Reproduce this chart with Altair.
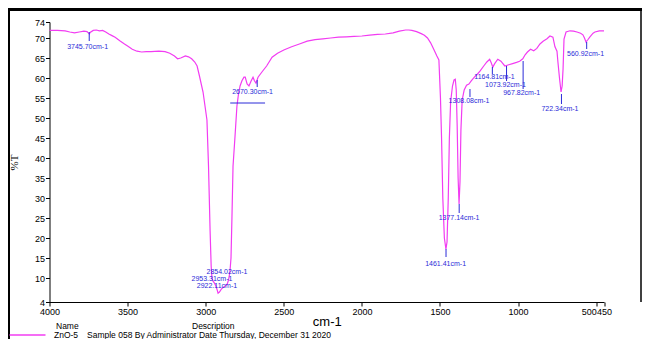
import altair as alt
import pandas as pd

# ---- spectrum (wavenumber cm-1, %T) ----
wn = [4000, 3950, 3900, 3870, 3840, 3810, 3780, 3760, 3750, 3745, 3740, 3720, 3700, 3680, 3660,
      3640, 3620, 3600, 3580, 3550, 3520, 3500, 3470, 3440, 3410, 3380, 3350, 3300, 3260, 3230,
      3200, 3180, 3160, 3130, 3110, 3090, 3070, 3055, 3040, 3017, 2992, 2982, 2972, 2965, 2960,
      2953, 2945, 2935, 2928, 2921, 2912, 2900, 2890, 2875, 2862, 2854, 2845, 2838, 2832, 2825,
      2813, 2800, 2790, 2780, 2768, 2755, 2747, 2735, 2723, 2710, 2697, 2688, 2678, 2665, 2640,
      2610, 2575, 2540, 2500, 2450, 2400, 2350, 2300, 2250, 2200, 2150, 2100, 2050, 2000, 1950,
      1900, 1850, 1800, 1760, 1720, 1700, 1680, 1650, 1620, 1600, 1580, 1560, 1540, 1520, 1507,
      1497, 1490, 1482, 1472, 1462, 1455, 1447, 1440, 1432, 1420, 1410, 1402, 1396, 1390, 1384,
      1378, 1372, 1366, 1358, 1345, 1330, 1315, 1300, 1280, 1260, 1244, 1220, 1200, 1182, 1172,
      1162, 1150, 1130, 1110, 1085, 1060, 1035, 1010, 990, 970, 955, 940, 920, 900, 880,
      860, 840, 815, 796, 777, 764, 751, 745, 735, 725, 718, 712, 706, 693, 668,
      645, 623, 600, 585, 575, 565, 555, 540, 520, 508, 480, 457, 450]
tr = [71.9, 71.9, 71.8, 71.5, 71.3, 71.5, 71.7, 71.6, 71.2, 71.0, 71.4, 71.9, 72.0, 71.8, 71.9,
      71.5, 71.0, 70.6, 70.2, 69.3, 68.5, 68.0, 67.2, 66.7, 66.5, 66.6, 66.6, 66.7, 66.6, 66.2,
      65.5, 64.8, 65.0, 65.5, 65.3, 64.8, 64.0, 63.0, 60.5, 56.5, 49.5, 38.0, 22.0, 13.0, 10.0,
      9.2, 8.8, 8.0, 7.2, 6.2, 6.5, 7.2, 7.6, 8.0, 8.5, 9.5, 11.5, 15.0, 25.0, 38.0,
      45.0, 53.0, 56.0, 58.0, 59.3, 60.2, 60.2, 58.5, 58.0, 59.2, 60.2, 59.3, 58.7, 60.2, 61.5,
      63.0, 65.2, 66.2, 67.0, 67.8, 68.5, 69.2, 69.6, 69.8, 70.0, 70.2, 70.3, 70.4, 70.5, 70.7,
      70.9, 71.0, 71.3, 71.7, 72.0, 72.0, 71.9, 71.6, 71.1, 70.7, 70.0, 68.8, 67.2, 65.5, 64.5,
      55.0, 45.0, 30.0, 20.0, 17.2, 19.0, 30.0, 45.0, 54.0, 58.0, 59.5, 59.7, 57.0, 48.0, 35.0,
      28.5, 34.0, 47.0, 54.5, 57.0, 58.2, 58.5, 59.3, 60.2, 61.0, 61.7, 63.0, 64.0, 64.7, 63.8,
      62.7, 63.6, 64.7, 64.2, 63.0, 63.3, 63.6, 63.9, 64.2, 64.8, 65.8, 66.5, 67.2, 66.8, 67.4,
      68.5, 69.2, 69.8, 70.5, 70.2, 67.8, 66.7, 64.0, 60.0, 56.5, 58.0, 62.3, 69.7, 71.5, 71.8,
      71.7, 71.5, 71.2, 70.8, 70.0, 69.0, 69.5, 70.3, 71.2, 71.5, 71.8, 71.8, 71.8]

# ---- peak annotations ----
peak_wn = [3745.70, 2670.30, 2854.02, 2953.31, 2922.11, 1461.41, 1377.14,
           1308.08, 1164.81, 1073.92, 967.82, 722.34, 560.92]
marker_top = [71.5, 59.5, None, None, None, 17.25, 28.5, 57.25, 62.75, 63.0, 64.25, 56.0, 69.0]
marker_bottom = [69.25, 57.75, None, None, None, 15.25, 26.25, 55.25, 61.0, 59.25, 57.25, 53.5, 67.25]
label_y = [67.8, 56.5, 11.5, 9.75, 8.0, 13.5, 25.0, 54.25, 60.25, 58.25, 56.25, 52.25, 66.0]
label_wn = [3756, 2700, 2864, 2960, 2928, 1464, 1378, 1314, 1151, 1081, 977, 732, 568]

# baseline marker near 2670
base_wn = [2843, 2620]
base_y = [53.75, 53.75]

x_ticks = [4000, 3500, 3000, 2500, 2000, 1500, 1000, 500, 450]
y_ticks = [4, 10, 15, 20, 25, 30, 35, 40, 45, 50, 55, 60, 65, 70, 74]

spec = pd.DataFrame({"wn": wn, "T": tr})
marks = pd.DataFrame({"wn": peak_wn, "top": marker_top, "bottom": marker_bottom}).dropna()
labels = pd.DataFrame({"wn": label_wn, "y": label_y,
                       "text": [f"{w:.2f}cm-1" for w in peak_wn]})
base = pd.DataFrame({"wn": base_wn, "y": base_y})

PINK = "#F23CF2"
BLUE = "#2B2BD8"

xscale = alt.Scale(domain=[450, 4000], reverse=True, nice=False, zero=False)
yscale = alt.Scale(domain=[4, 74], nice=False, zero=False)

xaxis = alt.Axis(values=x_ticks, format="d", title="cm-1", labelOverlap=False, grid=False,
                 labelFlush=False, titleFontSize=13, titleFont="Liberation Sans",
                 titleFontWeight="normal", titlePadding=-1, titleColor="black",
                 labelAlign=alt.ConditionalAxisLabelAlign(
                     condition={"test": "datum.value == 500", "value": "right"},
                     value="center"))
yaxis = alt.Axis(values=y_ticks, format="d", title="%T", labelOverlap=False, grid=False,
                 titleFont="Liberation Serif", titleFontSize=11, titleFontWeight="normal",
                 titleX=-35, titleY=140, titleAngle=270, titleAlign="center",
                 titleBaseline="middle", titleColor="black")

X = lambda f: alt.X(f, type="quantitative", scale=xscale, axis=xaxis)
Y = lambda f: alt.Y(f, type="quantitative", scale=yscale, axis=yaxis)

line = alt.Chart(spec).mark_line(color=PINK, strokeWidth=1.2).encode(
    x=X("wn"), y=Y("T"),
    order=alt.Order("wn:Q", sort="descending"),
)

mk = alt.Chart(marks).mark_rule(color=BLUE, strokeWidth=1).encode(
    x=X("wn"), y=Y("top"), y2="bottom:Q")

lb = alt.Chart(labels).mark_text(color=BLUE, fontSize=7, font="Liberation Sans",
                                 align="center", baseline="middle").encode(
    x=X("wn"), y=Y("y"), text="text:N")

bl = alt.Chart(base).mark_line(color=BLUE, strokeWidth=1).encode(x=X("wn"), y=Y("y"))

one = pd.DataFrame({"a": [0]})

def rule(x, y, x2=None, y2=None, color="black", w=1):
    enc = dict(x=alt.value(x), y=alt.value(y))
    if x2 is not None:
        enc["x2"] = alt.value(x2)
    if y2 is not None:
        enc["y2"] = alt.value(y2)
    return alt.Chart(one).mark_rule(color=color, strokeWidth=w).encode(**enc)

def txt(x, y, s, size=8.5):
    return alt.Chart(one).mark_text(align="left", baseline="middle", fontSize=size,
                                    font="Liberation Sans", color="black").encode(
        x=alt.value(x), y=alt.value(y), text=alt.value(s))

# frame and legend (plot origin at page x=49.5, y=22)
frame_left = rule(-41, -14, y2=318, w=3)
frame_top = rule(-42.5, -12.5, x2=592.5, w=3)
frame_right = rule(591.5, -14, y2=280, w=1.5)

leg_line = rule(-40, 313, x2=-4, color=PINK, w=1.5)
t1 = txt(6.5, 304, "Name")
t2 = txt(142.5, 304, "Description")
t3 = txt(4.5, 313, "ZnO-5")
t4 = txt(37.5, 313, "Sample 058 By Administrator Date Thursday, December 31 2020")

chart = alt.layer(line, mk, bl, lb, frame_left, frame_top, frame_right,
                  leg_line, t1, t2, t3, t4).properties(
    width=554.5, height=280,
    autosize=alt.AutoSizeParams(type="none"),
    padding={"left": 41.5, "top": 14, "right": 38, "bottom": 37},
).configure_view(stroke=None).configure_axis(
    domainColor="black", tickColor="black", labelColor="black",
    labelFont="Liberation Sans", labelFontSize=9, tickSize=4, labelPadding=1,
)

chart.save("out.html", embed_options={"renderer": "svg", "actions": False})
